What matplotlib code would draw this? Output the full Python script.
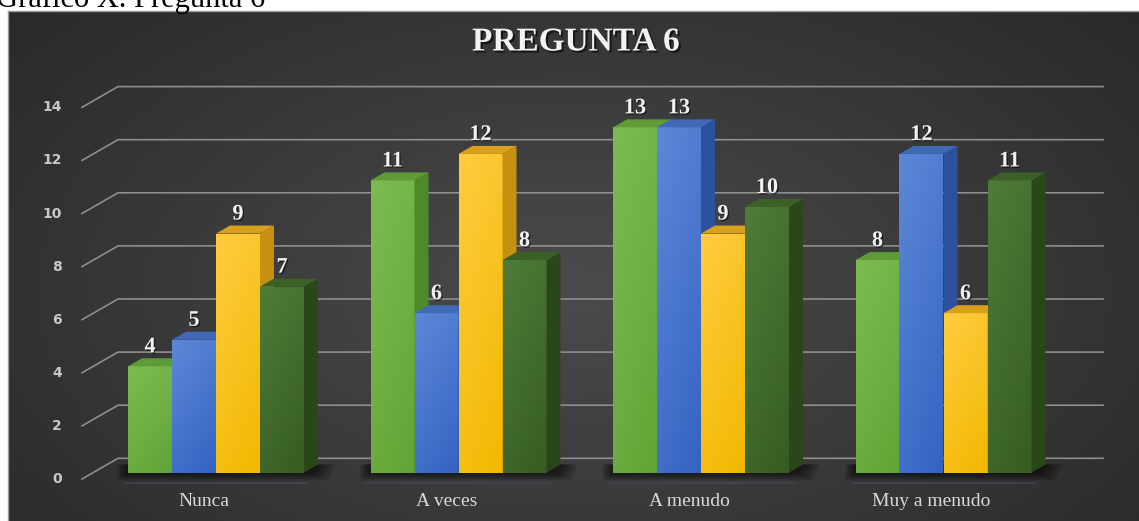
import numpy as np
import matplotlib
matplotlib.use("Agg")
import matplotlib.pyplot as plt
from matplotlib.patches import Polygon
from matplotlib import patheffects
from matplotlib.colors import to_rgb

# ---- data -------------------------------------------------------------
categories = ["Nunca", "A veces", "A menudo", "Muy a menudo"]
serie_1 = [4, 11, 13, 8]
serie_2 = [5, 6, 13, 12]
serie_3 = [9, 12, 9, 6]
serie_4 = [7, 8, 10, 11]
y_ticks = [0, 2, 4, 6, 8, 10, 12, 14]
title = "PREGUNTA 6"
caption = "Gráfico X. Pregunta 6"

series = [serie_1, serie_2, serie_3, serie_4]

# ---- styling ----------------------------------------------------------
front_colors = [("#7cbb52", "#63a436"), ("#5d88d8", "#3463c2"),
                ("#ffcc40", "#f2b800"), ("#4f7c39", "#365d22")]
side_colors = ["#4e8a2c", "#2d529c", "#c69010", "#2a4719"]
top_colors = ["#5f9c37", "#4069b6", "#d9a01c", "#3b6127"]
SERIF = "Liberation Serif"

W, H = 1139, 521
fig = plt.figure(figsize=(W / 100, H / 100), dpi=100)
fig.patch.set_facecolor("white")

# dark panel with a soft radial glow
bg = fig.add_axes([8 / W, 0, (W - 8) / W, (H - 11) / H])
yy, xx = np.mgrid[0:1:200j, 0:1:400j]
rr = np.sqrt(((xx - 0.5) / 0.6) ** 2 + ((yy - 0.55) / 0.75) ** 2)
shade = np.clip(0.295 - 0.12 * rr, 0.15, 0.3)
bg.imshow(np.dstack([shade] * 3), extent=[0, 1, 0, 1], aspect="auto",
          interpolation="bicubic")
bg.set_xticks([])
bg.set_yticks([])
for name, sp in bg.spines.items():
    sp.set_visible(name in ("top", "left"))
    sp.set_color("#9a9a9a")
    sp.set_linewidth(1.0)

# plot area expressed in value units; pixel offsets converted below
PX_Y = 26.55      # pixels per value unit
BASE_ROW = 472.5  # pixel row of the value 0 on the bar front plane
PX_X = 242.5      # pixels per category step
CENTER0 = 216     # pixel column of the first category centre

ax = fig.add_axes([0, 0, 1, 1])
ax.axis("off")
XLIM = ((0 - CENTER0) / PX_X, (W - CENTER0) / PX_X)
YLIM = ((BASE_ROW - H) / PX_Y, BASE_ROW / PX_Y)

# back-wall gridlines with the short side-wall segment
x_front = (82 - CENTER0) / PX_X
x_wall = (118 - CENTER0) / PX_X
x_end = (1103 - CENTER0) / PX_X
for v in y_ticks:
    yf = v - 6.5 / PX_Y
    yw = v + 14.2 / PX_Y
    ax.plot([x_front, x_wall, x_end], [yf, yw, yw], color="#8e8e8e",
            lw=1.2, zorder=1, solid_joinstyle="miter")
    ax.text((62 - CENTER0) / PX_X, yf, str(v), ha="right", va="center",
            fontsize=10, fontweight="bold", family="DejaVu Sans",
            color="#c8c8c8", zorder=2)

x = np.arange(len(categories))
bw = 44 / PX_X
DX, DY = 14 / PX_X, 8 / PX_Y

# soft floor shadow beneath each group, built from stacked translucent layers
for g in x:
    xl = g - 2 * bw
    xr = g + 2 * bw
    for k in range(8):
        ex_u = (2 + 2.2 * k) / PX_X
        ey_u = (1 + 1.0 * k) / PX_Y
        poly = Polygon([(xl - ex_u * 0.6, -ey_u), (xr + DX * 0.5 + ex_u, -ey_u),
                        (xr + DX + ex_u, DY), (xl - ex_u * 0.6, DY)],
                       closed=True, facecolor="black", edgecolor="none",
                       alpha=0.09, zorder=2)
        ax.add_patch(poly)
    # faint cool reflection line on the floor
    ax.plot([xl - 4 / PX_X, xr + 4 / PX_X], [-10 / PX_Y] * 2,
            color="#4c4a66", lw=1.5, alpha=0.5, zorder=2)


def gradient(light, dark, nx=20, ny=60):
    lt = np.array(to_rgb(light))
    dk = np.array(to_rgb(dark))
    vy = np.linspace(0, 1, ny)[:, None]
    vx = np.linspace(0, 1, nx)[None, :]
    mix = np.clip(0.7 * vy + 0.3 * vx, 0, 1)[..., None]
    return lt * (1 - mix) + dk * mix


label_fx = [patheffects.SimplePatchShadow(offset=(1, -1), alpha=0.5,
                                          shadow_rgbFace="black"),
            patheffects.Normal()]

for j, vals in enumerate(series):
    z = 3 + j
    pos = x + (j - 1.5) * bw
    bars = ax.bar(pos, vals, width=bw, color=front_colors[j][0],
                  linewidth=0, zorder=z)
    grad = gradient(*front_colors[j])
    for rect, v in zip(bars, vals):
        xl = rect.get_x()
        xr = xl + rect.get_width()
        im = ax.imshow(grad, extent=[xl, xr, 0, v], aspect="auto",
                       origin="upper", interpolation="bilinear",
                       zorder=z + 0.01)
        im.set_clip_path(rect)
        side = Polygon([(xr, 0), (xr + DX, DY), (xr + DX, v + DY), (xr, v)],
                       closed=True, facecolor=side_colors[j],
                       edgecolor="none", zorder=z + 0.02)
        top = Polygon([(xl, v), (xl + DX, v + DY), (xr + DX, v + DY), (xr, v)],
                      closed=True, facecolor=top_colors[j],
                      edgecolor="none", zorder=z + 0.03)
        ax.add_patch(side)
        ax.add_patch(top)
        ax.annotate(str(v), (xl + bw / 2, v), xytext=(0, 19),
                    textcoords="offset pixels", ha="center", va="center",
                    fontsize=16, fontweight="bold", family=SERIF,
                    color="#f2f2f2", zorder=20, path_effects=label_fx)

for g, cat in zip(x, categories):
    ax.text(g - 12 / PX_X, (BASE_ROW - 502) / PX_Y, cat, ha="center",
            va="center", fontsize=14, family=SERIF, color="#d9d9d9",
            zorder=20)

ax.set_xlim(*XLIM)
ax.set_ylim(*YLIM)

fig.text(576 / W, 1 - 42 / H, title, ha="center", va="center",
         fontsize=24, fontweight="bold", family=SERIF, color="#f2f2f2",
         path_effects=[patheffects.SimplePatchShadow(offset=(1.5, -1.5),
                                                     alpha=0.6,
                                                     shadow_rgbFace="black"),
                       patheffects.Normal()])

fig.text(-4 / W, 1 - 6.5 / H, caption, ha="left", va="baseline",
         fontsize=22, family=SERIF, color="black")

fig.savefig("out.png", dpi=100)
